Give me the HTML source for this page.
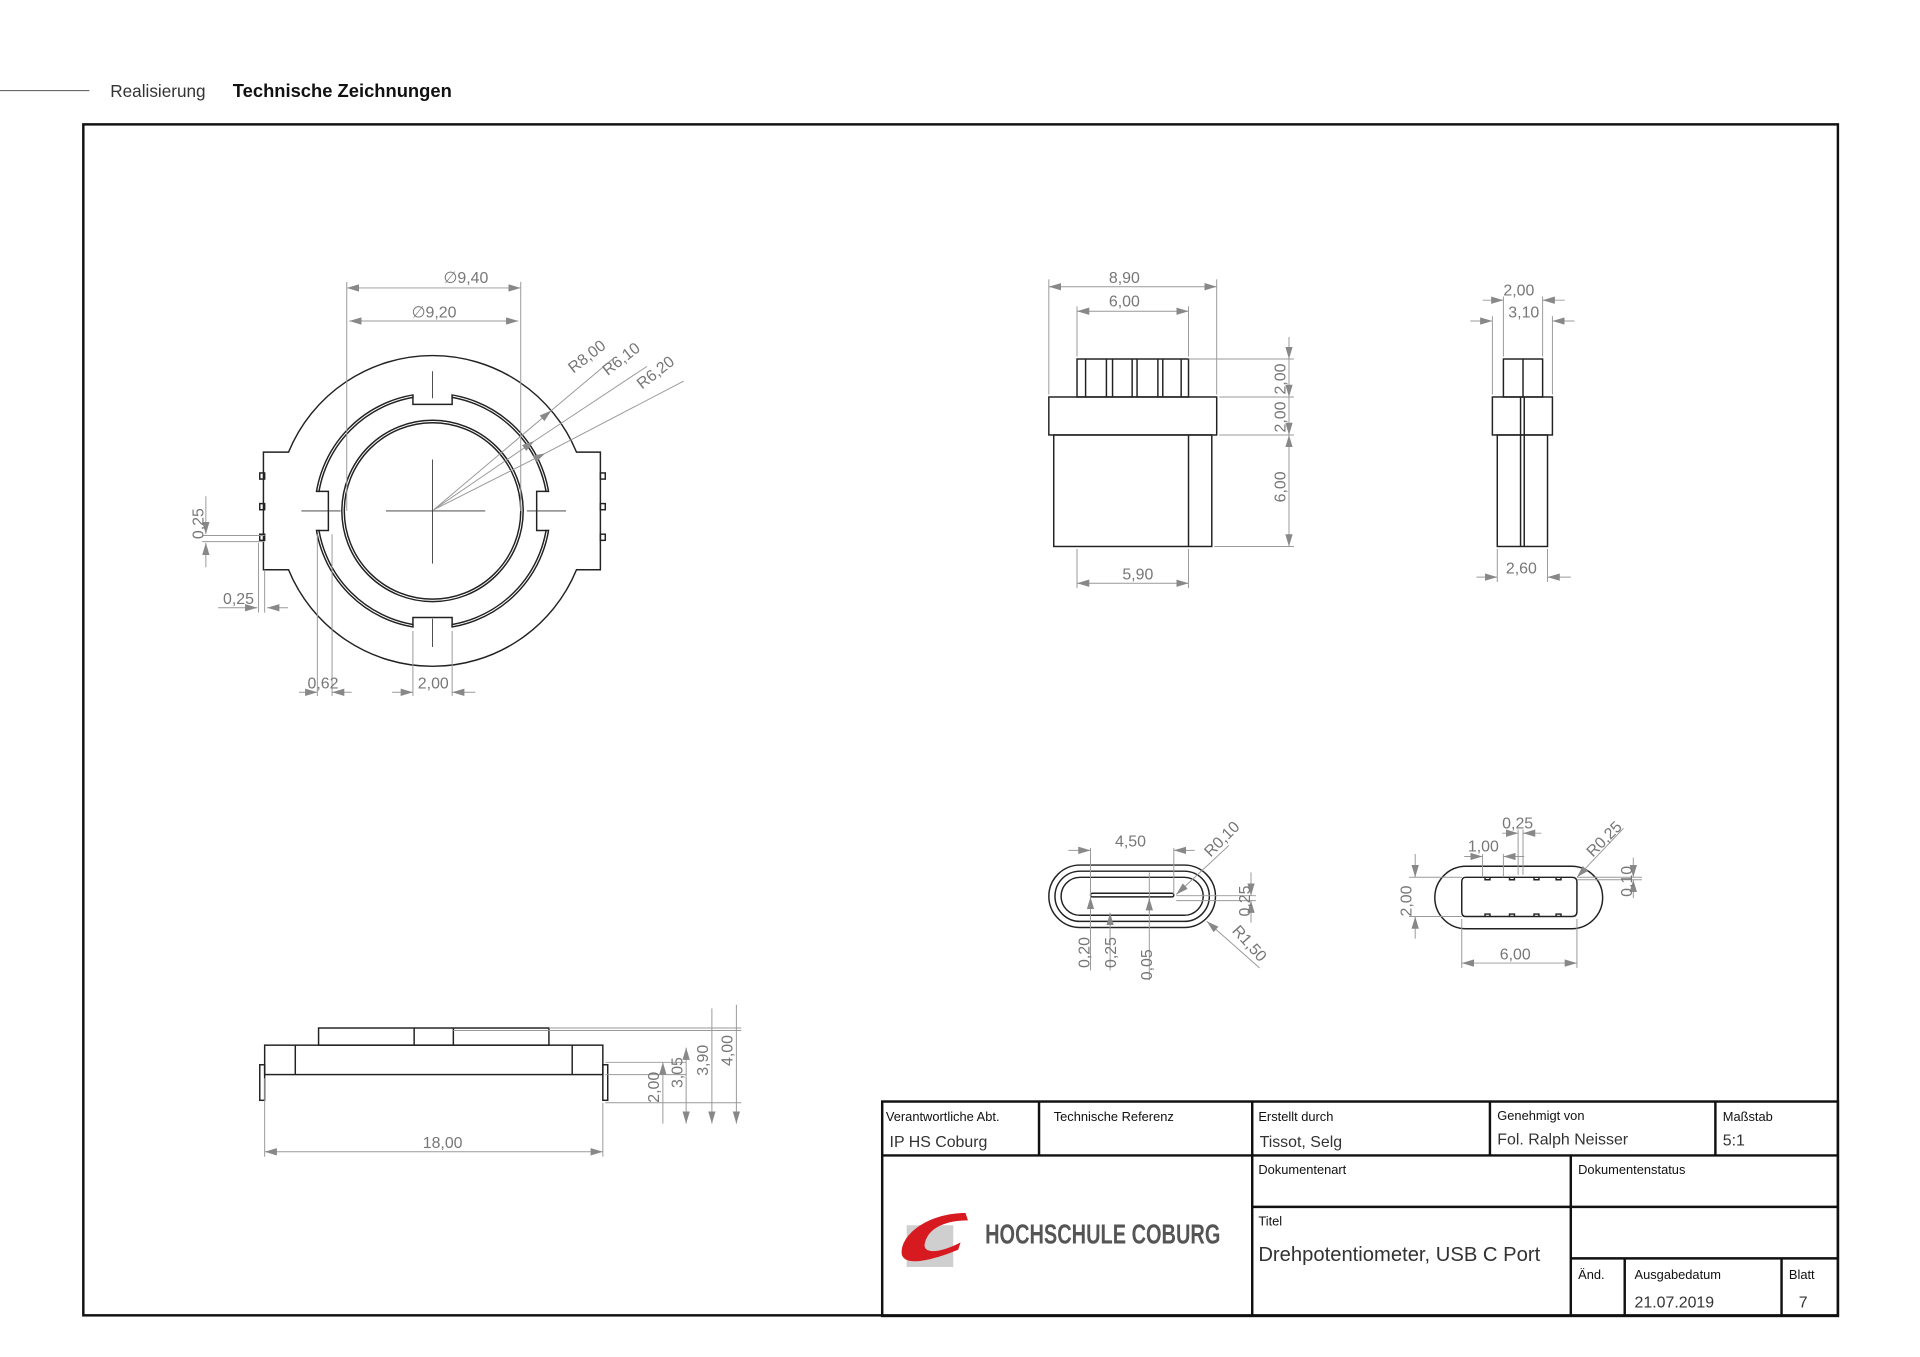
<!DOCTYPE html>
<html><head><meta charset="utf-8"><style>
html,body{margin:0;padding:0;background:#fff;}
svg{display:block}
text{font-family:"Liberation Sans",sans-serif;}
.d{stroke:#999;stroke-width:0.8;fill:none}
.o{stroke:#222;stroke-width:1.2;fill:none}
.t{fill:#777;font-size:13px}
.h{fill:#111;font-size:10.5px}
.v{fill:#333;font-size:13px}
</style></head><body>
<svg width="1920" height="1357" viewBox="0 0 1567 1107.5" preserveAspectRatio="none" xmlns="http://www.w3.org/2000/svg">
<defs><marker id="a" viewBox="0 0 10 6" refX="10" refY="3" markerWidth="10" markerHeight="6" orient="auto-start-reverse" markerUnits="userSpaceOnUse"><path d="M0,0L10,3L0,6z" fill="#888"/></marker></defs>
<line x1="0" y1="74" x2="73" y2="74" stroke="#555" stroke-width="0.8"/>
<text x="90" y="79" font-size="14" fill="#333">Realisierung</text>
<text x="190" y="79" font-size="15" font-weight="bold" fill="#111">Technische Zeichnungen</text>
<rect x="68" y="101.5" width="1432" height="972" fill="none" stroke="#111" stroke-width="2"/>

<!-- Drawing 1 -->
<g>
<path class="o" d="M235.5,369 A127,127 0 0 1 470.5,369 L490,369 L490,465 L470.5,465 A127,127 0 0 1 235.5,465 L215,465 L215,369 Z"/>
<rect x="212" y="386" width="4" height="5" class="o"/><rect x="212" y="411" width="4" height="5" class="o"/><rect x="212" y="436" width="4" height="5" class="o"/>
<rect x="490" y="386" width="4" height="5" class="o"/><rect x="490" y="411" width="4" height="5" class="o"/><rect x="490" y="436" width="4" height="5" class="o"/>
<circle cx="353" cy="417" r="96" class="o"/><circle cx="353" cy="417" r="94" class="o" stroke-width="0.8"/>
<g fill="#fff" stroke="none"><rect x="337.6" y="318" width="30.8" height="12"/><rect x="337.6" y="504" width="30.8" height="12"/><rect x="254" y="401.6" width="14" height="30.8"/><rect x="438" y="401.6" width="14" height="30.8"/></g>
<path class="o" d="M337,322 V330 H369 V322 M337,512 V504 H369 V512 M258,401 H268 V433 H258 M448,401 H438 V433 H448"/>
<circle cx="353" cy="417" r="74" class="o"/><circle cx="353" cy="417" r="72" class="o" stroke-width="0.8"/>
<g stroke="#333" stroke-width="0.7"><line x1="353" y1="375" x2="353" y2="460"/><line x1="315" y1="417" x2="396" y2="417"/>
<line x1="353" y1="303" x2="353" y2="325"/><line x1="353" y1="505" x2="353" y2="528"/>
<line x1="246" y1="417" x2="278" y2="417"/><line x1="430" y1="417" x2="462" y2="417"/></g>
<g class="d"><line x1="283" y1="230" x2="283" y2="417"/><line x1="425" y1="230" x2="425" y2="417"/>
<line x1="283" y1="235" x2="425" y2="235" marker-start="url(#a)" marker-end="url(#a)"/>
<line x1="285" y1="262" x2="423" y2="262" marker-start="url(#a)" marker-end="url(#a)"/>
<line x1="354" y1="416" x2="450" y2="335" marker-end="url(#a)"/><line x1="450" y1="335" x2="500" y2="293"/>
<line x1="354" y1="416" x2="436" y2="360" marker-end="url(#a)"/><line x1="436" y1="360" x2="528" y2="299"/>
<line x1="354" y1="416" x2="445" y2="370" marker-end="url(#a)"/><line x1="445" y1="370" x2="558" y2="311"/>
<line x1="168" y1="405" x2="168" y2="436" marker-end="url(#a)"/><line x1="168" y1="443" x2="168" y2="463" marker-start="url(#a)"/>
<line x1="165" y1="437" x2="216" y2="437"/><line x1="165" y1="442" x2="216" y2="442"/>
<line x1="178" y1="496" x2="210" y2="496" marker-end="url(#a)"/><line x1="218" y1="496" x2="235" y2="496" marker-start="url(#a)"/>
<line x1="211" y1="443" x2="211" y2="500"/><line x1="216" y1="465" x2="216" y2="500"/>
<line x1="259" y1="436" x2="259" y2="568"/><line x1="271" y1="436" x2="271" y2="568"/>
<line x1="244" y1="565" x2="259" y2="565" marker-end="url(#a)"/><line x1="271" y1="565" x2="287" y2="565" marker-start="url(#a)"/>
<line x1="337" y1="515" x2="337" y2="568"/><line x1="369" y1="515" x2="369" y2="568"/>
<line x1="320" y1="565" x2="337" y2="565" marker-end="url(#a)"/><line x1="369" y1="565" x2="388" y2="565" marker-start="url(#a)"/></g>
<text class="t" x="362" y="231">∅9,40</text><text class="t" x="336" y="259">∅9,20</text>
<text class="t" transform="translate(468,305) rotate(-38)">R8,00</text>
<text class="t" transform="translate(496,307) rotate(-38)">R6,10</text>
<text class="t" transform="translate(524,318) rotate(-38)">R6,20</text>
<text class="t" transform="translate(166,440) rotate(-90)">0,25</text>
<text class="t" x="182" y="493">0,25</text><text class="t" x="251" y="562">0,62</text><text class="t" x="341" y="562">2,00</text>
</g>

<!-- Drawing 2 -->
<g>
<rect x="860" y="355" width="129" height="91" class="o"/><line x1="970" y1="355" x2="970" y2="446" class="o" stroke-width="0.7"/>
<rect x="856" y="324" width="137" height="31" class="o"/>
<rect x="879" y="293" width="91" height="31" class="o"/>
<g class="o" stroke-width="0.8"><line x1="886" y1="293" x2="886" y2="324"/><line x1="903" y1="293" x2="903" y2="324"/><line x1="908" y1="293" x2="908" y2="324"/><line x1="924" y1="293" x2="924" y2="324"/><line x1="928" y1="293" x2="928" y2="324"/><line x1="945" y1="293" x2="945" y2="324"/><line x1="949" y1="293" x2="949" y2="324"/><line x1="964" y1="293" x2="964" y2="324"/></g>
<g class="d"><line x1="856" y1="228" x2="856" y2="322"/><line x1="993" y1="228" x2="993" y2="322"/>
<line x1="856" y1="234" x2="993" y2="234" marker-start="url(#a)" marker-end="url(#a)"/>
<line x1="879" y1="250" x2="879" y2="291"/><line x1="970" y1="250" x2="970" y2="291"/>
<line x1="879" y1="254" x2="970" y2="254" marker-start="url(#a)" marker-end="url(#a)"/>
<line x1="970" y1="293" x2="1056" y2="293"/><line x1="995" y1="324" x2="1056" y2="324"/><line x1="995" y1="355" x2="1056" y2="355"/><line x1="991" y1="446" x2="1056" y2="446"/>
<line x1="1052" y1="275" x2="1052" y2="293" marker-end="url(#a)"/><line x1="1052" y1="293" x2="1052" y2="324" marker-end="url(#a)"/><line x1="1052" y1="324" x2="1052" y2="355" marker-end="url(#a)"/><line x1="1052" y1="355" x2="1052" y2="446" marker-start="url(#a)" marker-end="url(#a)"/>
<line x1="879" y1="448" x2="879" y2="480"/><line x1="970" y1="448" x2="970" y2="480"/>
<line x1="879" y1="476" x2="970" y2="476" marker-start="url(#a)" marker-end="url(#a)"/></g>
<text class="t" x="905" y="231">8,90</text><text class="t" x="905" y="250">6,00</text><text class="t" x="916" y="473">5,90</text>
<text class="t" transform="translate(1049,322) rotate(-90)">2,00</text>
<text class="t" transform="translate(1049,353) rotate(-90)">2,00</text>
<text class="t" transform="translate(1049,410) rotate(-90)">6,00</text>
</g>

<!-- Drawing 3 -->
<g>
<rect x="1222" y="355" width="41" height="91" class="o"/>
<rect x="1218" y="324" width="49" height="31" class="o"/>
<rect x="1227" y="293" width="32" height="31" class="o"/>
<line x1="1241" y1="324" x2="1241" y2="446" class="o"/><line x1="1244" y1="324" x2="1244" y2="446" class="o" stroke-width="0.7"/>
<line x1="1243" y1="293" x2="1243" y2="324" class="o" stroke-width="0.7"/>
<g class="d"><line x1="1227" y1="242" x2="1227" y2="291"/><line x1="1259" y1="242" x2="1259" y2="291"/>
<line x1="1210" y1="245" x2="1227" y2="245" marker-end="url(#a)"/><line x1="1259" y1="245" x2="1277" y2="245" marker-start="url(#a)"/>
<line x1="1218" y1="258" x2="1218" y2="322"/><line x1="1267" y1="258" x2="1267" y2="322"/>
<line x1="1200" y1="262" x2="1218" y2="262" marker-end="url(#a)"/><line x1="1267" y1="262" x2="1285" y2="262" marker-start="url(#a)"/>
<line x1="1222" y1="448" x2="1222" y2="475"/><line x1="1263" y1="448" x2="1263" y2="475"/>
<line x1="1205" y1="471" x2="1222" y2="471" marker-end="url(#a)"/><line x1="1263" y1="471" x2="1282" y2="471" marker-start="url(#a)"/></g>
<text class="t" x="1227" y="241">2,00</text><text class="t" x="1231" y="259">3,10</text><text class="t" x="1229" y="468">2,60</text>
</g>

<!-- Drawing 4 -->
<g>
<rect x="856" y="706" width="136" height="51" rx="25.5" class="o"/>
<rect x="861" y="711" width="126" height="41" rx="20.5" class="o" stroke-width="0.9"/>
<rect x="866" y="716" width="116" height="31" rx="15.5" class="o" stroke-width="0.9"/>
<rect x="890" y="729" width="68" height="3" rx="1.5" class="o" stroke-width="1"/>
<g class="d"><line x1="890" y1="692" x2="890" y2="760"/><line x1="958" y1="692" x2="958" y2="730"/>
<line x1="872" y1="694" x2="890" y2="694" marker-end="url(#a)"/><line x1="958" y1="694" x2="975" y2="694" marker-start="url(#a)"/>
<line x1="960" y1="730" x2="1003" y2="690" marker-start="url(#a)"/>
<line x1="985" y1="752" x2="1028" y2="790" marker-start="url(#a)"/>
<line x1="960" y1="731" x2="1025" y2="731"/><line x1="960" y1="735" x2="1025" y2="735"/>
<line x1="1021" y1="712" x2="1021" y2="731" marker-end="url(#a)"/><line x1="1021" y1="735" x2="1021" y2="753" marker-start="url(#a)"/>
<line x1="890" y1="745" x2="890" y2="792"/><line x1="890" y1="740" x2="890" y2="732" marker-end="url(#a)"/>
<line x1="906" y1="745" x2="906" y2="792"/><line x1="906" y1="745" x2="906" y2="752" marker-start="url(#a)"/>
<line x1="938" y1="712" x2="938" y2="800"/><line x1="938" y1="745" x2="938" y2="733" marker-end="url(#a)"/></g>
<text class="t" x="910" y="691">4,50</text>
<text class="t" transform="translate(988,700) rotate(-45)">R0,10</text>
<text class="t" transform="translate(1005,760) rotate(48)">R1,50</text>
<text class="t" transform="translate(1020,748) rotate(-90)">0,25</text>
<text class="t" transform="translate(889,790) rotate(-90)">0,20</text>
<text class="t" transform="translate(911,790) rotate(-90)">0,25</text>
<text class="t" transform="translate(940,800) rotate(-90)">0,05</text>
</g>

<!-- Drawing 5 -->
<g>
<rect x="1171" y="707" width="137" height="51" rx="25.5" class="o"/>
<path class="o" d="M1196,716 H1283 Q1287,716 1287,720 V744 Q1287,748 1283,748 H1196 Q1193,748 1193,744 V720 Q1193,716 1196,716 Z"/>
<g class="o" stroke-width="1"><path d="M1212,716 v2 h4 v-2 M1232,716 v2 h4 v-2 M1252,716 v2 h4 v-2 M1270,716 v2 h4 v-2"/><path d="M1212,748 v-2 h4 v2 M1232,748 v-2 h4 v2 M1252,748 v-2 h4 v2 M1270,748 v-2 h4 v2"/></g>
<g class="d"><line x1="1193" y1="750" x2="1193" y2="790"/><line x1="1287" y1="750" x2="1287" y2="790"/>
<line x1="1193" y1="786" x2="1287" y2="786" marker-start="url(#a)" marker-end="url(#a)"/>
<line x1="1150" y1="716" x2="1193" y2="716"/><line x1="1150" y1="748" x2="1193" y2="748"/>
<line x1="1155" y1="697" x2="1155" y2="716" marker-end="url(#a)"/><line x1="1155" y1="748" x2="1155" y2="766" marker-start="url(#a)"/>
<line x1="1210" y1="697" x2="1210" y2="716"/><line x1="1227" y1="697" x2="1227" y2="716"/>
<line x1="1195" y1="699" x2="1210" y2="699" marker-end="url(#a)"/><line x1="1227" y1="699" x2="1244" y2="699" marker-start="url(#a)"/>
<line x1="1239" y1="677" x2="1239" y2="714"/><line x1="1243" y1="677" x2="1243" y2="714"/>
<line x1="1226" y1="680" x2="1239" y2="680" marker-end="url(#a)"/><line x1="1243" y1="680" x2="1258" y2="680" marker-start="url(#a)"/>
<line x1="1287" y1="716" x2="1325" y2="676" marker-start="url(#a)"/>
<line x1="1287" y1="716" x2="1340" y2="716"/><line x1="1287" y1="718" x2="1340" y2="718"/>
<line x1="1333" y1="700" x2="1333" y2="716" marker-end="url(#a)"/><line x1="1333" y1="718" x2="1333" y2="733" marker-start="url(#a)"/></g>
<text class="t" x="1226" y="676">0,25</text><text class="t" x="1198" y="695">1,00</text><text class="t" x="1224" y="783">6,00</text>
<text class="t" transform="translate(1300,700) rotate(-45)">R0,25</text>
<text class="t" transform="translate(1152,748) rotate(-90)">2,00</text>
<text class="t" transform="translate(1332,732) rotate(-90)">0,10</text>
</g>

<!-- Drawing 6 -->
<g>
<rect x="216" y="853" width="276" height="24" class="o"/>
<line x1="241" y1="853" x2="241" y2="877" class="o"/><line x1="467" y1="853" x2="467" y2="877" class="o"/>
<rect x="260" y="839" width="188" height="14" class="o"/>
<line x1="338" y1="839" x2="338" y2="853" class="o"/><line x1="370" y1="839" x2="370" y2="853" class="o"/>
<rect x="212" y="869" width="4" height="29" class="o" stroke-width="0.9"/><rect x="492" y="869" width="4" height="29" class="o" stroke-width="0.9"/>
<g class="d"><line x1="216" y1="880" x2="216" y2="944"/><line x1="492" y1="900" x2="492" y2="944"/>
<line x1="216" y1="940" x2="492" y2="940" marker-start="url(#a)" marker-end="url(#a)"/>
<line x1="448" y1="839" x2="605" y2="839"/><line x1="370" y1="841" x2="605" y2="841"/>
<line x1="494" y1="867" x2="560" y2="867"/><line x1="494" y1="900" x2="605" y2="900"/><line x1="494" y1="877" x2="560" y2="877"/>
<line x1="541" y1="867" x2="541" y2="917" marker-start="url(#a)"/><line x1="560" y1="855" x2="560" y2="917" marker-start="url(#a)" marker-end="url(#a)"/>
<line x1="581" y1="823" x2="581" y2="917" marker-end="url(#a)"/><line x1="601" y1="820" x2="601" y2="917" marker-end="url(#a)"/></g>
<text class="t" x="345" y="937">18,00</text>
<text class="t" transform="translate(538,900) rotate(-90)">2,00</text>
<text class="t" transform="translate(557,888) rotate(-90)">3,05</text>
<text class="t" transform="translate(578,878) rotate(-90)">3,90</text>
<text class="t" transform="translate(598,870) rotate(-90)">4,00</text>
</g>

<!-- Title block -->
<g stroke="#111" stroke-width="2" fill="none">
<rect x="720" y="899" width="780" height="175"/>
<line x1="720" y1="943" x2="1500" y2="943"/>
<line x1="848" y1="899" x2="848" y2="943"/><line x1="1022" y1="899" x2="1022" y2="1074"/>
<line x1="1216" y1="899" x2="1216" y2="943"/><line x1="1400" y1="899" x2="1400" y2="943"/>
<line x1="1282" y1="943" x2="1282" y2="1074"/>
<line x1="1022" y1="985" x2="1500" y2="985"/><line x1="1282" y1="1027" x2="1500" y2="1027"/>
<line x1="1326" y1="1027" x2="1326" y2="1074"/><line x1="1454" y1="1027" x2="1454" y2="1074"/>
</g>
<text class="h" x="723" y="915">Verantwortliche Abt.</text><text class="v" x="726" y="936">IP HS Coburg</text>
<text class="h" x="860" y="915">Technische Referenz</text>
<text class="h" x="1027" y="915">Erstellt durch</text><text class="v" x="1028" y="936">Tissot, Selg</text>
<text class="h" x="1222" y="914">Genehmigt von</text><text class="v" x="1222" y="934">Fol. Ralph Neisser</text>
<text class="h" x="1406" y="915">Maßstab</text><text class="v" x="1406" y="935">5:1</text>
<text class="h" x="1027" y="958">Dokumentenart</text><text class="h" x="1288" y="958">Dokumentenstatus</text>
<text class="h" x="1027" y="1000">Titel</text>
<text x="1027" y="1029" font-size="16.5" fill="#333">Drehpotentiometer, USB C Port</text>
<text class="h" x="1288" y="1044">Änd.</text><text class="h" x="1334" y="1044">Ausgabedatum</text><text class="h" x="1460" y="1044">Blatt</text>
<text class="v" x="1334" y="1067">21.07.2019</text><text class="v" x="1468" y="1067">7</text>
<rect x="740" y="1000" width="38" height="34" fill="#cfcfcf"/>
<path d="M788,990 C760,990 738,1005 736,1020 C734,1032 750,1033 782,1020 L784,1014 C765,1024 752,1023 755,1014 C758,1002 772,996 790,996 Z" fill="#d71920"/>
<text x="804" y="1015" font-size="23" font-weight="bold" fill="#555" textLength="192" lengthAdjust="spacingAndGlyphs">HOCHSCHULE COBURG</text>
</svg>
</body></html>
